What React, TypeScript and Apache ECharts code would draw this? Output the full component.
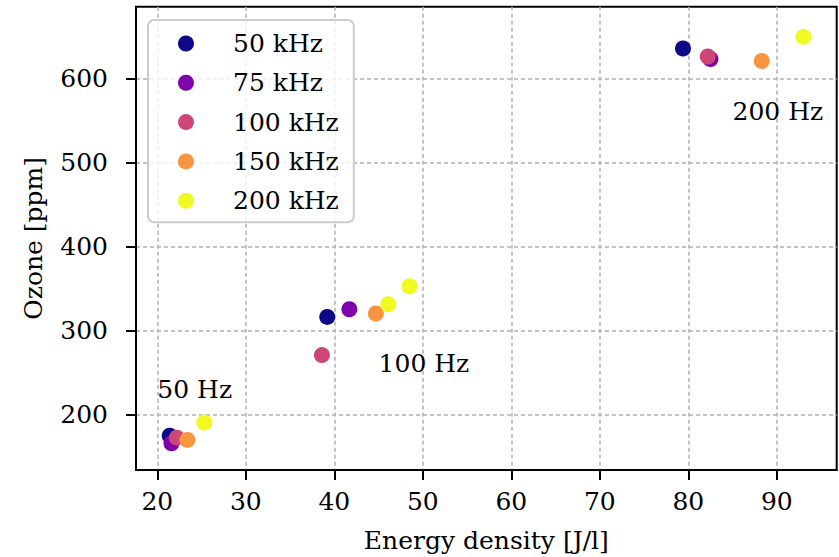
import React, { useEffect, useRef } from "react";
import * as echarts from "echarts";

const seriesNames = ["50 kHz", "75 kHz", "100 kHz", "150 kHz", "200 kHz"];
const seriesColors = ["#0d0887", "#7e03a8", "#cc4778", "#f89540", "#f0f921"];

const s50: [number, number][] = [[21.4, 175.4], [39.2, 316.7], [79.4, 636.2]];
const s75: [number, number][] = [[21.6, 166.4], [41.7, 325.9], [82.5, 623.6]];
const s100: [number, number][] = [[22.2, 173.0], [38.6, 271.3], [82.2, 626.7]];
const s150: [number, number][] = [[23.4, 170.3], [44.7, 320.8], [88.3, 621.3]];
const s200: [number, number][] = [[25.3, 190.9], [46.1, 331.8], [48.5, 353.2], [93.0, 650.1]];
const seriesData = [s50, s75, s100, s150, s200];

const annotations: [number, number, string][] = [
  [20, 220, "50 Hz"],
  [45, 250, "100 Hz"],
  [85, 550, "200 Hz"],
];

const xTicks = [20, 30, 40, 50, 60, 70, 80, 90];
const yTicks = [200, 300, 400, 500, 600];
const xRange = [17.59, 96.77];
const yRange = [134.5, 686];

const FONT = "DejaVu Serif";

export default function App() {
  const ref = useRef<HTMLDivElement>(null);
  useEffect(() => {
    if (!ref.current) return;
    const chart = echarts.init(ref.current, null, { renderer: "svg" });
    const axisCommon = {
      axisLine: { show: true, lineStyle: { color: "#000", width: 2 } },
      axisTick: { show: true, length: 10, lineStyle: { color: "#000", width: 2 } },
      splitLine: { show: true, lineStyle: { color: "#b0b0b0", width: 1.5, type: [4, 3] } },
      nameTextStyle: { fontFamily: FONT, fontSize: 25, color: "#000" },
    };
    chart.setOption({
      animation: false,
      grid: {
        left: 136,
        right: 2.3,
        top: 6.7,
        bottom: 87,
        outerBoundsMode: "none",
        containLabel: false,
        show: true,
        borderColor: "#000",
        borderWidth: 2,
        backgroundColor: "transparent",
      },
      legend: {
        data: seriesNames,
        orient: "vertical",
        left: 148,
        top: 20,
        padding: [11, 15, 9, 30],
        itemWidth: 16,
        itemHeight: 16,
        itemGap: 14.3,
        icon: "circle",
        backgroundColor: "rgba(255,255,255,0.8)",
        borderColor: "#cccccc",
        borderWidth: 2,
        borderRadius: 6,
        textStyle: {
          fontFamily: FONT,
          fontSize: 25,
          lineHeight: 25,
          color: "#000",
          padding: [0, 0, 0, 34],
        },
      },
      xAxis: {
        type: "value",
        min: xRange[0],
        max: xRange[1],
        splitNumber: 8,
        name: "Energy density [J/l]",
        nameLocation: "middle",
        nameGap: 58,
        ...axisCommon,
        axisTick: { ...axisCommon.axisTick, customValues: xTicks },
        axisLabel: {
          customValues: xTicks,
          fontFamily: FONT,
          fontSize: 25,
          color: "#000",
          margin: 19,
        },
      },
      yAxis: {
        type: "value",
        min: yRange[0],
        max: yRange[1],
        splitNumber: 5,
        name: "Ozone [ppm]",
        nameLocation: "middle",
        nameGap: 90,
        ...axisCommon,
        axisTick: { ...axisCommon.axisTick, customValues: yTicks },
        axisLabel: {
          customValues: yTicks,
          fontFamily: FONT,
          fontSize: 25,
          color: "#000",
          margin: 28,
        },
      },
      series: [
        ...seriesNames.map((name, i) => ({
          name,
          type: "scatter",
          symbol: "circle",
          symbolSize: 16,
          itemStyle: { color: seriesColors[i], opacity: 1 },
          data: seriesData[i],
          z: 2 + i,
        })),
        {
          name: "annotations",
          type: "scatter",
          symbolSize: 0,
          silent: true,
          data: annotations.map((a) => ({ value: [a[0], a[1]], name: a[2] })),
          label: {
            show: true,
            position: "right",
            distance: 0,
            offset: [0, -9],
            formatter: (p: any) => p.name,
            fontFamily: FONT,
            fontSize: 25,
            color: "#000",
            opacity: 1,
          },
        },
      ],
    });
    return () => chart.dispose();
  }, []);
  return <div ref={ref} style={{ width: 839, height: 557, position: "absolute", left: 0, top: 0 }} />;
}
